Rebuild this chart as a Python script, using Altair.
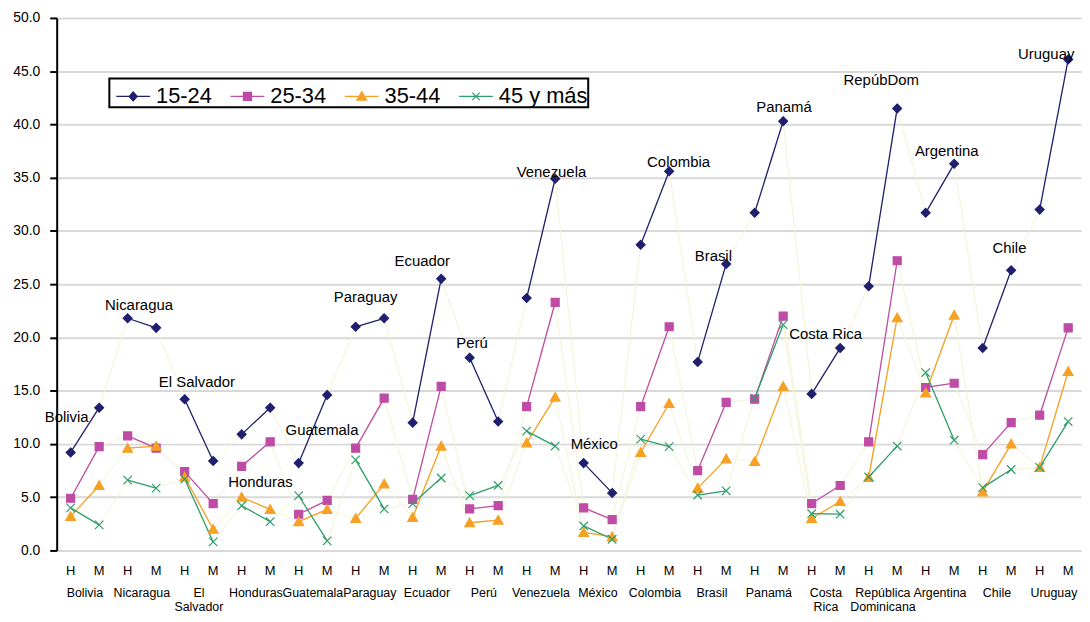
import altair as alt
import pandas as pd

countries = ["Bolivia", "Nicaragua", "El Salvador", "Honduras", "Guatemala", "Paraguay",
             "Ecuador", "Perú", "Venezuela", "México", "Colombia", "Brasil", "Panamá",
             "Costa Rica", "República Dominicana", "Argentina", "Chile", "Uruguay"]
axis_names = ["Bolivia", "Nicaragua", "El\nSalvador", "Honduras", "Guatemala", "Paraguay",
              "Ecuador", "Perú", "Venezuela", "México", "Colombia", "Brasil", "Panamá",
              "Costa\nRica", "República\nDominicana", "Argentina", "Chile", "Uruguay"]
sexes = ["H", "M"]
series = ["15-24", "25-34", "35-44", "45 y más"]

# values H, M per country
v_15_24 = [9.2, 13.4, 21.8, 20.9, 14.2, 8.4, 10.9, 13.4, 8.2, 14.6, 21.0, 21.8,
           12.0, 25.5, 18.1, 12.1, 23.7, 34.9, 8.2, 5.4, 28.7, 35.6, 17.7, 26.9,
           31.7, 40.3, 14.7, 19.0, 24.8, 41.5, 31.7, 36.3, 19.0, 26.3, 32.0, 46.1]
v_25_34 = [4.9, 9.75, 10.75, 9.6, 7.4, 4.4, 7.9, 10.2, 3.4, 4.7, 9.6, 14.3,
           4.8, 15.4, 3.9, 4.2, 13.5, 23.3, 4.0, 2.9, 13.5, 21.0, 7.5, 13.9,
           14.2, 22.0, 4.4, 6.1, 10.2, 27.2, 15.3, 15.7, 9.0, 12.0, 12.7, 20.9]
v_35_44 = [3.2, 6.1, 9.6, 9.8, 6.9, 2.0, 5.0, 3.85, 2.7, 3.85, 3.0, 6.25,
           3.1, 9.8, 2.6, 2.85, 10.1, 14.4, 1.7, 1.3, 9.2, 13.8, 5.85, 8.6,
           8.35, 15.4, 3.0, 4.6, 6.85, 21.85, 14.8, 22.1, 5.5, 10.0, 7.8, 16.8]
v_45_mas = [4.0, 2.4, 6.6, 5.85, 6.7, 0.8, 4.2, 2.7, 5.15, 0.9, 8.5, 3.9,
            4.4, 6.8, 5.15, 6.1, 11.2, 9.8, 2.3, 1.05, 10.45, 9.75, 5.2, 5.6,
            14.3, 21.2, 3.45, 3.4, 6.9, 9.8, 16.7, 10.35, 5.9, 7.6, 7.8, 12.1]

# annotation labels near each country's group
label_text = ["Bolivia", "Nicaragua", "El Salvador", "Honduras", "Guatemala", "Paraguay",
              "Ecuador", "Perú", "Venezuela", "México", "Colombia", "Brasil", "Panamá",
              "Costa Rica", "RepúbDom", "Argentina", "Chile", "Uruguay"]
label_x = [-0.14, 2.4, 4.43, 6.66, 8.82, 10.35, 12.34, 14.08, 16.87, 18.37, 21.33,
           22.55, 25.03, 26.49, 28.44, 30.74, 32.94, 34.23]
label_y = [12.5, 23.0, 15.8, 6.4, 11.3, 23.8, 27.2, 19.5, 35.5, 10.0, 36.5, 27.6,
           41.6, 20.3, 44.2, 37.5, 28.4, 46.6]

colors = ["#1F1F6E", "#BE4BA5", "#F7A023", "#2E9E6B"]
marker_paths = [
    "M0,-1L1,0L0,1L-1,0Z",
    "M-0.9,-0.9L0.9,-0.9L0.9,0.9L-0.9,0.9Z",
    "M0,-1.05L1.1,0.9L-1.1,0.9Z",
    "M-0.95,-0.95L0.95,0.95M-0.95,0.95L0.95,-0.95",
]
legend_paths = [
    "M-1,0L1,0M0,-0.27L0.24,0L0,0.27L-0.24,0Z",
    "M-1,0L1,0M-0.24,-0.24L0.24,-0.24L0.24,0.24L-0.24,0.24Z",
    "M-1,0L1,0M0,-0.28L0.29,0.22L-0.29,0.22Z",
    "M-1,0L1,0M-0.22,-0.22L0.22,0.22M-0.22,0.22L0.22,-0.22",
]

values = [v_15_24, v_25_34, v_35_44, v_45_mas]
rows = []
for si, s in enumerate(series):
    for ci, c in enumerate(countries):
        for k, sx in enumerate(sexes):
            idx = 2 * ci + k
            rows.append({"serie": s, "pais": c, "sexo": sx, "i": idx,
                         "v": values[si][idx], "col": colors[si],
                         "shp": marker_paths[si]})
df = pd.DataFrame(rows)

lab_df = pd.DataFrame({"t": label_text, "x": label_x, "y": label_y})
names_df = pd.DataFrame({"t": axis_names, "x": [2 * k + 0.5 for k in range(len(countries))]})
sex_df = pd.DataFrame([{"t": sx, "x": 2 * ci + k}
                       for ci in range(len(countries)) for k, sx in enumerate(sexes)])

FONT = "Liberation Sans, Arial, sans-serif"
W, H = 1031, 536

x_scale = alt.Scale(domain=[-0.49, 35.45], nice=False, zero=False)
y_scale = alt.Scale(domain=[0, 50], nice=False)

x_enc = alt.X("i:Q", scale=x_scale, axis=None)
y_enc = alt.Y("v:Q", scale=y_scale,
              axis=alt.Axis(values=[0, 5, 10, 15, 20, 25, 30, 35, 40, 45, 50], format=".1f",
                            title=None, grid=True, gridColor="#D9D9D9", gridWidth=2,
                            domainColor="black", domainWidth=2, tickColor="black",
                            tickWidth=2, tickSize=7, labelFontSize=14, labelPadding=10,
                            labelColor="black", labelFont=FONT))

base = alt.Chart(df)

faint = base.mark_line(color="#F3F3D6", strokeWidth=1).encode(
    x=x_enc, y=y_enc, detail="serie:N", order="i:Q")

lines = base.mark_line(strokeWidth=1.3).encode(
    x="i:Q", y="v:Q",
    stroke=alt.Stroke("col:N", scale=None),
    detail=[alt.Detail("serie:N"), alt.Detail("pais:N")],
    order="i:Q")

points = base.mark_point(filled=True, size=80, strokeWidth=1.2, opacity=1).encode(
    x="i:Q", y="v:Q",
    fill=alt.Fill("col:N", scale=None),
    stroke=alt.Stroke("col:N", scale=None),
    shape=alt.Shape("shp:N", scale=None))

leg = alt.Legend(title=None, orient="none", legendX=53, legendY=61, direction="horizontal",
                 columns=4, symbolSize=1156, symbolStrokeWidth=1.2, labelFontSize=22,
                 labelFont=FONT, labelColor="black", labelOffset=5, columnPadding=11,
                 padding=0, symbolOffset=6, strokeColor="black")
legend_layer = base.transform_filter("datum.v < -1000").mark_point(filled=True).encode(
    x="i:Q", y="v:Q",
    color=alt.Color("serie:N", scale=alt.Scale(domain=series, range=colors), legend=leg),
    stroke=alt.Stroke("serie:N", scale=alt.Scale(domain=series, range=colors), legend=leg),
    shape=alt.Shape("serie:N", scale=alt.Scale(domain=series, range=legend_paths), legend=leg))

labels = alt.Chart(lab_df).mark_text(fontSize=15, font=FONT, color="black",
                                     align="center", baseline="middle").encode(
    x="x:Q", y="y:Q", text="t:N")

sex_labels = alt.Chart(sex_df).mark_text(fontSize=13, font=FONT, color="black",
                                         align="center", baseline="middle").encode(
    x="x:Q", y=alt.value(H + 21), text="t:N")

names = alt.Chart(names_df).mark_text(fontSize=12.5, font=FONT, color="black", align="center",
                                      baseline="top", lineBreak="\n", lineHeight=13.5).encode(
    x="x:Q", y=alt.value(H + 37), text="t:N")

chart = alt.layer(faint, lines, points, legend_layer, labels, sex_labels, names).properties(
    width=W, height=H,
    autosize=alt.AutoSizeParams(type="none"),
    padding={"left": 49, "top": 8, "right": 1, "bottom": 62},
).configure_view(stroke=None).configure_legend(strokeWidth=2)

chart.save("out.html", embed_options={"renderer": "svg", "actions": False})
